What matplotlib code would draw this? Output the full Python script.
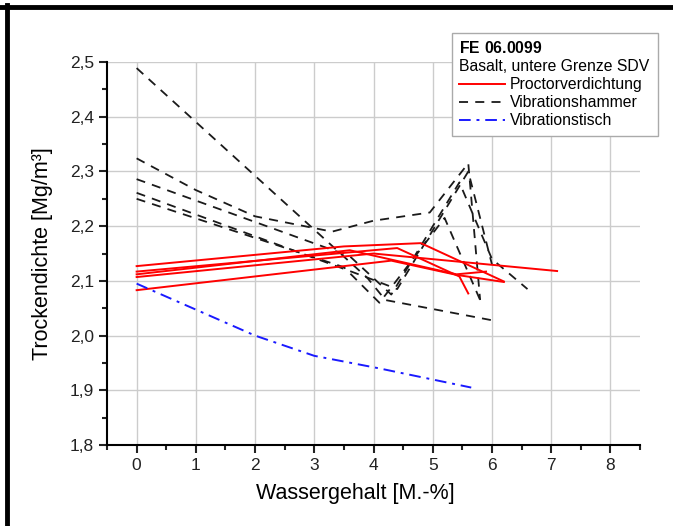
import matplotlib
matplotlib.use("Agg")
import matplotlib.pyplot as plt
from matplotlib.ticker import MultipleLocator, FuncFormatter
from matplotlib.lines import Line2D

plt.rcParams['font.family'] = ['Liberation Sans', 'DejaVu Sans']
plt.rcParams['mathtext.fontset'] = 'custom'
plt.rcParams['mathtext.bf'] = 'Liberation Sans:bold'
plt.rcParams['mathtext.rm'] = 'Liberation Sans'

# Proctorverdichtung (5 Versuche)
proctor_x = [
    [0, 3.5, 4.8, 6.2],
    [0, 4.4, 5.45, 5.6],
    [0, 3.6, 5.4, 5.9],
    [0, 4.0, 7.1],
    [0, 4.3, 5.4, 6.2],
]
proctor_y = [
    [2.127, 2.163, 2.169, 2.099],
    [2.117, 2.160, 2.108, 2.077],
    [2.112, 2.156, 2.112, 2.117],
    [2.107, 2.150, 2.118],
    [2.083, 2.137, 2.111, 2.098],
]

# Vibrationshammer (5 Versuche)
hammer_x = [
    [0, 3.9, 4.2, 6.05],
    [0, 1, 2, 3.3, 4.0, 4.95, 5.6, 5.8],
    [0, 3.6, 4.3, 5.45, 6.0, 6.6],
    [0, 3.8, 4.4, 5.6, 6.0],
    [0, 3.5, 4.1, 5.2, 5.8],
]
hammer_y = [
    [2.489, 2.105, 2.065, 2.027],
    [2.324, 2.266, 2.218, 2.190, 2.210, 2.225, 2.315, 2.065],
    [2.286, 2.145, 2.075, 2.280, 2.140, 2.085],
    [2.261, 2.110, 2.085, 2.300, 2.130],
    [2.250, 2.125, 2.060, 2.215, 2.065],
]

# Vibrationstisch
tisch_x = [0, 2, 3, 4.1, 5.65]
tisch_y = [2.095, 2.000, 1.963, 1.940, 1.905]

fig = plt.figure(figsize=(6.73, 5.26), dpi=100)
ax = fig.add_axes([0.159, 0.154, 0.792, 0.728])

for xs, ys in zip(hammer_x, hammer_y):
    ax.plot(xs, ys, color='#1a1a1a', lw=1.3, dashes=(5, 4))
for xs, ys in zip(proctor_x, proctor_y):
    ax.plot(xs, ys, color='#ff0000', lw=1.4)
ax.plot(tisch_x, tisch_y, color='#1a1aff', lw=1.4, dashes=(6, 3, 1.5, 3))

ax.set_xlim(-0.5, 8.5)
ax.set_ylim(1.8, 2.5)
ax.xaxis.set_major_locator(MultipleLocator(1))
ax.xaxis.set_minor_locator(MultipleLocator(0.5))
ax.yaxis.set_major_locator(MultipleLocator(0.1))
ax.yaxis.set_minor_locator(MultipleLocator(0.05))
ax.yaxis.set_major_formatter(FuncFormatter(lambda v, p: f"{v:.1f}".replace('.', ',')))

ax.grid(True, which='major', color='#cccccc', lw=1)
ax.set_axisbelow(True)
for s in ['top', 'right']:
    ax.spines[s].set_visible(False)
for s in ['left', 'bottom']:
    ax.spines[s].set_linewidth(1.5)
ax.tick_params(which='major', direction='out', length=6, width=1.5, labelsize=12.5, colors='#222222')
ax.tick_params(which='minor', direction='out', length=3.5, width=1.5, colors='#222222')

ax.set_xlabel("Wassergehalt [M.-%]", fontsize=15.5, labelpad=10)
ax.set_ylabel("Trockendichte [Mg/m³]", fontsize=15.5, labelpad=12)
ax.xaxis.set_label_coords(0.465, -0.1)

handles = [
    Line2D([], [], color='#ff0000', lw=1.4),
    Line2D([], [], color='#1a1a1a', lw=1.3, dashes=(5, 4)),
    Line2D([], [], color='#1a1aff', lw=1.4, dashes=(6, 3, 1.5, 3)),
]
labels = ["Proctorverdichtung", "Vibrationshammer", "Vibrationstisch"]
leg = ax.legend(handles, labels,
                title=r"$\bf{FE\ 06.0099}$" + "\nBasalt, untere Grenze SDV",
                title_fontsize=11.3, fontsize=11.3, alignment='left',
                loc='upper right', bbox_to_anchor=(0.977, 0.938), bbox_transform=fig.transFigure,
                fancybox=False, edgecolor='#aaaaaa', framealpha=1,
                handlelength=2.9, handletextpad=0.3, labelspacing=0.2,
                borderpad=0.5, borderaxespad=0)
leg.get_frame().set_linewidth(1)

# schwarzer Rahmen (oben und links)
fig.add_artist(Line2D([0, 1], [1 - 7 / 526, 1 - 7 / 526], color='black', lw=3.5, transform=fig.transFigure))
fig.add_artist(Line2D([7 / 673, 7 / 673], [0, 1 - 5 / 526], color='black', lw=3.5, transform=fig.transFigure))

fig.savefig("out.png", dpi=100)
